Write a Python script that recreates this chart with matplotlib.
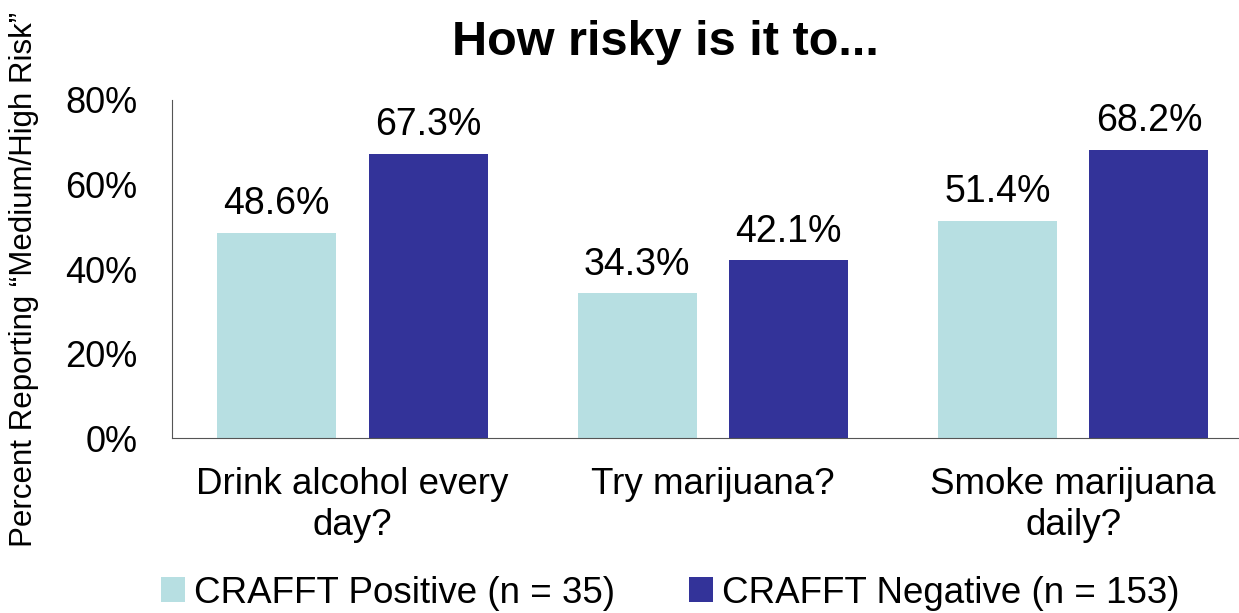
import matplotlib.pyplot as plt
import numpy as np

plt.rcParams['font.family'] = ['Liberation Sans', 'DejaVu Sans']

categories = ['Drink alcohol every\nday?', 'Try marijuana?', 'Smoke marijuana\ndaily?']
positive = [48.6, 34.3, 51.4]
negative = [67.3, 42.1, 68.2]
series_names = ['CRAFFT Positive (n = 35)', 'CRAFFT Negative (n = 153)']
colors = ['#B7DFE2', '#333399']

fig = plt.figure(figsize=(12.39, 6.13), dpi=100)
ax = fig.add_axes([0.139, 0.285, 0.861, 0.552])

x = np.arange(len(categories))
w = 0.33
off = 0.21
b1 = ax.bar(x - off, positive, w, color=colors[0], label=series_names[0])
b2 = ax.bar(x + off, negative, w, color=colors[1], label=series_names[1])

for bars, vals in ((b1, positive), (b2, negative)):
    for b, v in zip(bars, vals):
        ax.text(b.get_x() + b.get_width() / 2, v + 2.5, f'{v:.1f}%',
                ha='center', va='bottom', fontsize=27)

ax.set_xlim(-0.5, 2.46)
ax.set_ylim(0, 80)
ax.set_yticks([0, 20, 40, 60, 80])
ax.set_yticklabels(['0%', '20%', '40%', '60%', '80%'], fontsize=26)
ax.set_xticks(x)
ax.set_xticklabels(categories, fontsize=26.5, linespacing=1.2)
ax.tick_params(axis='x', length=0, pad=21)
ax.tick_params(axis='y', length=0, pad=25)
ax.spines['top'].set_visible(False)
ax.spines['right'].set_visible(False)
ax.spines['left'].set_color('#555555')
ax.spines['bottom'].set_color('#555555')

ax.set_ylabel('Percent Reporting \u201cMedium/High Risk\u201d', fontsize=22.5)
ax.yaxis.set_label_coords(-0.125, 0.47)
fig.suptitle('How risky is it to...', fontsize=35, fontweight='bold', x=0.537, y=0.968)

fig.legend(loc='lower center', bbox_to_anchor=(0.541, -0.05), ncol=2, frameon=False,
           fontsize=26.5, handlelength=0.65, handleheight=0.65, handletextpad=0.25,
           columnspacing=2.0)

fig.savefig('out.png', dpi=100)
